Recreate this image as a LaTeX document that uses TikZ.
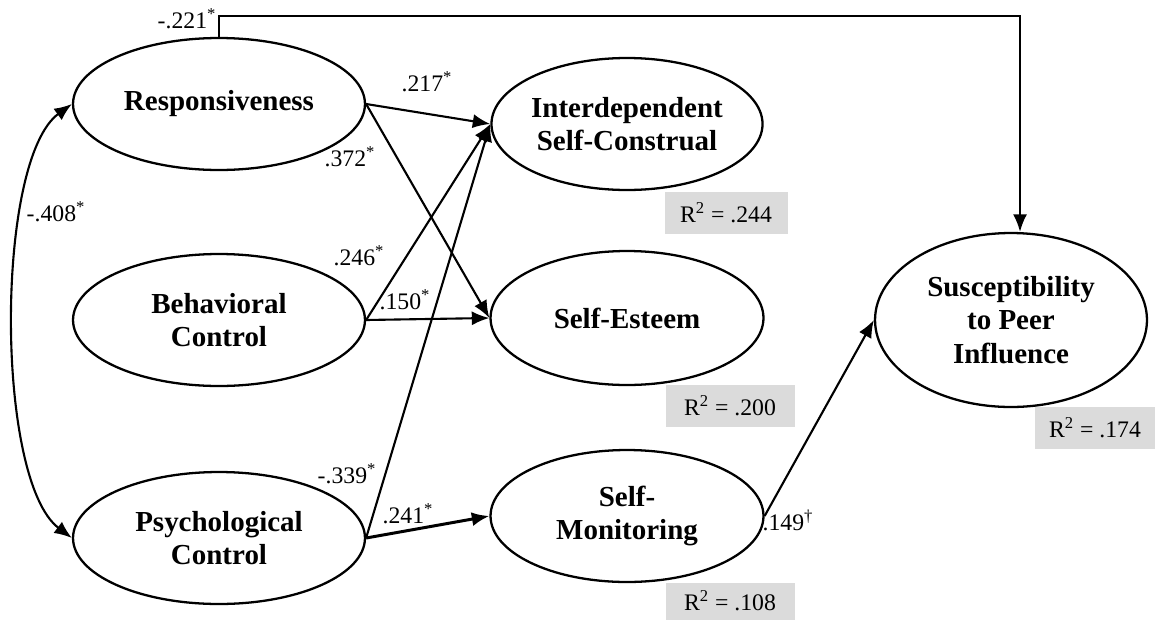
\documentclass[tikz,border=0pt]{standalone}
\usepackage{fontspec}
\setmainfont{Liberation Serif}
\usetikzlibrary{arrows.meta,shapes.geometric}

\begin{document}
\begin{tikzpicture}[x=0.02cm,y=-0.02cm,
  lat/.style={draw,ellipse,line width=1.3pt,inner sep=0pt,minimum width=5.84cm,minimum height=2.64cm,align=center,font=\fontsize{16.5}{19}\selectfont\bfseries},
  eff/.style={line width=1.2pt,-{Latex[length=10pt,width=8pt]}},
  coef/.style={font=\fontsize{13.5}{15}\selectfont,inner sep=1pt},
  rsq/.style={fill=black!14,inner sep=0pt,minimum height=0.84cm,font=\fontsize{13.5}{15}\selectfont}]
  \useasboundingbox (0,0) rectangle (1155,619);
  % exogenous
  \node[lat] (resp) at (219,104) {Responsiveness};
  \node[lat] (behav) at (219,320) {Behavioral\\Control};
  \node[lat] (psych) at (219,538) {Psychological\\Control};
  % mediators and outcome
  \node[lat,minimum width=5.42cm] (inter) at (627,124) {Interdependent\\Self-Construal};
  \node[lat,minimum width=5.46cm,minimum height=2.68cm] (este) at (627,318) {Self-Esteem};
  \node[lat,minimum width=5.46cm] (smon) at (627,516) {Self-\\Monitoring};
  \node[lat,minimum width=5.44cm,minimum height=3.48cm] (susc) at (1011,320) {Susceptibility\\to Peer\\Influence};
  \node[rsq,minimum width=2.46cm] (r1) at (726,213) {R\textsuperscript{2} = .244};
  \node[rsq,minimum width=2.58cm] (r2) at (730,406) {R\textsuperscript{2} = .200};
  \node[rsq,minimum width=2.58cm,minimum height=0.74cm] (r3) at (730,601) {R\textsuperscript{2} = .108};
  \node[rsq,minimum width=2.4cm] (r4) at (1095,428) {R\textsuperscript{2} = .174};
  % paths
  \coordinate (top) at (219,16);
  \draw[eff] (resp.north) -- (top) -| ([xshift=0.18cm]susc.north);
  \draw[line width=1.2pt,{Latex[length=10pt,width=8pt]}-{Latex[length=10pt,width=8pt]}] (resp.west) .. controls (-5,160) and (-5,480) .. (psych.west);
  \draw[eff] (resp.east) -- (inter.west);
  \draw[eff] (resp.east) -- (este.west);
  \draw[eff] (behav.east) -- (inter.west);
  \draw[eff] (behav.east) -- (este.west);
  \draw[eff] (psych.east) -- (inter.west);
  \draw[eff,line width=1.7pt] (psych.east) -- (smon.west);
  \draw[eff] (smon.east) -- (susc.west);
  \foreach \n/\x/\y/\t in {c1/187/19/-.221,c2/427/82/.217,c3/350/157/.372,c4/56/212/-.408,c5/359/256/.246,c6/405/300/.150,c7/347/474/-.339,c8/408/514/.241}
    \node[coef] (\n) at (\x,\y) {\t\textsuperscript{*}};
  \node[coef] (c9) at (788,520) {.149\textsuperscript{\dag}};
\end{tikzpicture}
\end{document}
